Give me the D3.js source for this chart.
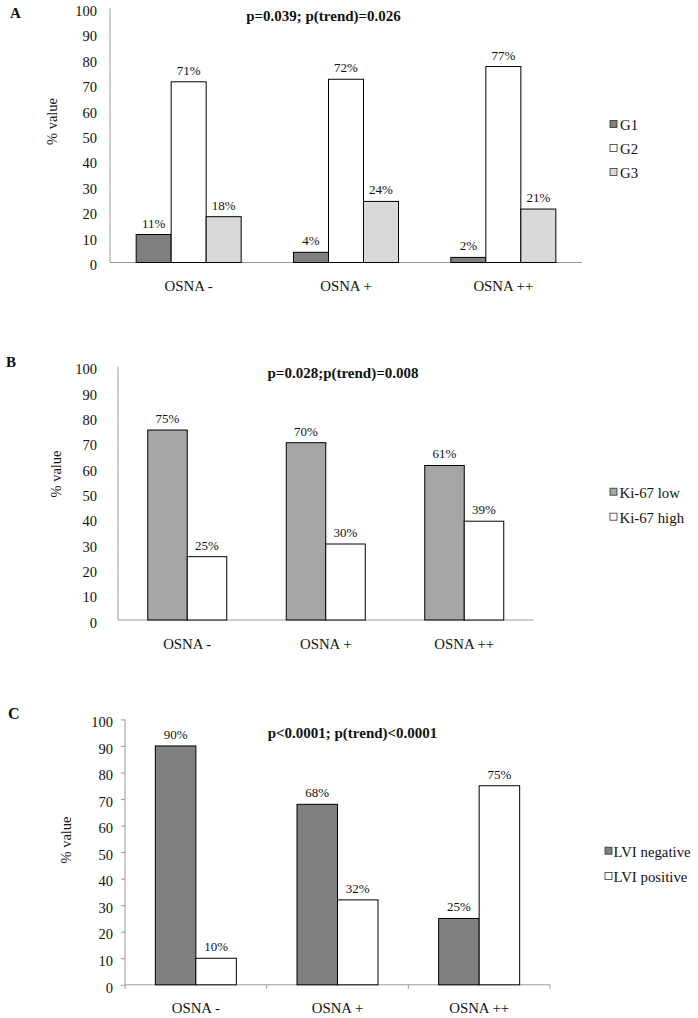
<!DOCTYPE html>
<html><head><meta charset="utf-8">
<script src="https://cdn.jsdelivr.net/npm/d3@7"></script>
<style>body{margin:0;background:#fff} text{font-family:"Liberation Serif","Times New Roman",serif;fill:#111}</style>
</head><body><svg id="c" width="698" height="1018"></svg>
<script>
const categories = ["OSNA -", "OSNA +", "OSNA ++"];
const yTickValues = [0, 10, 20, 30, 40, 50, 60, 70, 80, 90, 100];

const seriesA = ["G1", "G2", "G3"];
const g1Values = [11, 4, 2];
const g2Values = [71, 72, 77];
const g3Values = [18, 24, 21];
const colorsA = ["#7f7f7f", "#ffffff", "#d9d9d9"];

const seriesB = ["Ki-67 low", "Ki-67 high"];
const kiLowValues = [75, 70, 61];
const kiHighValues = [25, 30, 39];
const colorsB = ["#a6a6a6", "#ffffff"];

const seriesC = ["LVI negative", "LVI positive"];
const lviNegValues = [90, 68, 25];
const lviPosValues = [10, 32, 75];
const colorsC = ["#808080", "#ffffff"];

const titleA = "p=0.039; p(trend)=0.026";
const titleB = "p=0.028;p(trend)=0.008";
const titleC = "p<0.0001; p(trend)<0.0001";

const svg = d3.select("#c");

function panel(cfg) {
  const g = svg.append("g");
  const x = d3.scaleBand().domain(categories).range([cfg.x0, cfg.x1]).padding(0);
  const y = d3.scaleLinear().domain([0, 100]).range([cfg.yBase, cfg.yTop]);
  const xs = d3.scaleBand().domain(cfg.series).range([0, cfg.series.length * cfg.barW]);
  const rows = [];
  cfg.values.forEach((vals, si) => vals.forEach((v, ci) => rows.push({s: cfg.series[si], si, c: categories[ci], v})));

  // y axis
  const ya = d3.axisLeft(y).tickValues(yTickValues).tickSize(cfg.yTickSize).tickPadding(cfg.tickPad);
  const yg = g.append("g").attr("transform", `translate(${cfg.x0},0)`).call(ya);
  yg.select(".domain").attr("stroke", "#9a9a9a").attr("d", `M0,${cfg.yBase}V${cfg.yTop}`);
  yg.selectAll(".tick line").attr("stroke", "#9a9a9a");
  yg.selectAll(".tick text").attr("font-size", 14.5).attr("font-family", "Liberation Serif").attr("fill", "#111").attr("dy", "0.5em");

  // x axis
  const xa = d3.axisBottom(x).tickSize(0).tickFormat("");
  const xg = g.append("g").attr("transform", `translate(0,${cfg.yBase})`).call(xa);
  xg.select(".domain").attr("stroke", "#9a9a9a").attr("d", `M${cfg.x0},0H${cfg.x1}`);
  if (cfg.xTicks) {
    const bounds = categories.map(c => x(c)).concat([cfg.x1]);
    xg.selectAll(".bt").data(bounds).enter().append("line")
      .attr("x1", d => d).attr("x2", d => d).attr("y1", 0).attr("y2", 4).attr("stroke", "#9a9a9a");
  }
  g.selectAll(".cat").data(categories).enter().append("text")
    .attr("x", d => x(d) + x.bandwidth() / 2).attr("y", cfg.yBase + 28.5)
    .attr("text-anchor", "middle").attr("font-size", 14.8).text(d => d);

  // bars
  const off = (x.bandwidth() - cfg.series.length * cfg.barW) / 2;
  g.selectAll(".bar").data(rows).enter().append("rect")
    .attr("x", d => x(d.c) + off + xs(d.s)).attr("width", xs.bandwidth())
    .attr("y", d => y(d.v)).attr("height", d => y(0) - y(d.v))
    .attr("fill", d => cfg.colors[d.si]).attr("stroke", "#000").attr("stroke-width", 1);
  g.selectAll(".lbl").data(rows).enter().append("text")
    .attr("x", d => x(d.c) + off + xs(d.s) + xs.bandwidth() / 2).attr("y", d => y(d.v) - 7)
    .attr("text-anchor", "middle").attr("font-size", 13).text(d => d.v + "%");

  // y label
  g.append("text").attr("transform", `translate(${cfg.ylab[0]},${cfg.ylab[1]}) rotate(-90)`)
    .attr("text-anchor", "middle").attr("dy", "0.35em").attr("font-size", 14.5).text("% value");

  // title and letter
  g.append("text").attr("x", cfg.title[0]).attr("y", cfg.title[1]).attr("text-anchor", "middle")
    .attr("font-weight", "bold").attr("font-size", 15).text(cfg.titleText);
  g.append("text").attr("x", cfg.letter[0]).attr("y", cfg.letter[1])
    .attr("font-weight", "bold").attr("font-size", cfg.letterSize).text(cfg.letterText);

  // legend
  const lg = g.selectAll(".leg").data(cfg.series).enter().append("g")
    .attr("transform", (d, i) => `translate(${cfg.legX},${cfg.legY[i]})`);
  lg.append("rect").attr("x", 0).attr("y", -3.5).attr("width", 7).attr("height", 7)
    .attr("fill", (d, i) => cfg.colors[i]).attr("stroke", "#333").attr("stroke-width", 0.8);
  lg.append("text").attr("x", cfg.legTextDx).attr("y", 0).attr("dy", "0.4em").attr("font-size", 14.8).text(d => d);
}

panel({series: seriesA, values: [g1Values, g2Values, g3Values], colors: colorsA,
  x0: 110, x1: 582, yBase: 262.5, yTop: 8, barW: 35, yTickSize: 0, tickPad: 13, xTicks: false,
  ylab: [52, 121.5], title: [323.5, 21], titleText: titleA, letter: [10, 18], letterSize: 15, letterText: "A",
  legX: 610, legY: [124, 148, 172], legTextDx: 10});

panel({series: seriesB, values: [kiLowValues, kiHighValues], colors: colorsB,
  x0: 118, x1: 533.5, yBase: 620, yTop: 366.7, barW: 39.5, yTickSize: 0, tickPad: 21, xTicks: false,
  ylab: [56, 474], title: [343, 378], titleText: titleB, letter: [6, 367], letterSize: 15, letterText: "B",
  legX: 610, legY: [491.7, 516.7], legTextDx: 9.5});

panel({series: seriesC, values: [lviNegValues, lviPosValues], colors: colorsC,
  x0: 125, x1: 550, yBase: 984.8, yTop: 719.4, barW: 40.5, yTickSize: 4, tickPad: 8, xTicks: true,
  ylab: [66, 840], title: [352.5, 738], titleText: titleC, letter: [8, 719], letterSize: 16, letterText: "C",
  legX: 605, legY: [850.7, 876], legTextDx: 8.5});
</script>
</body></html>
